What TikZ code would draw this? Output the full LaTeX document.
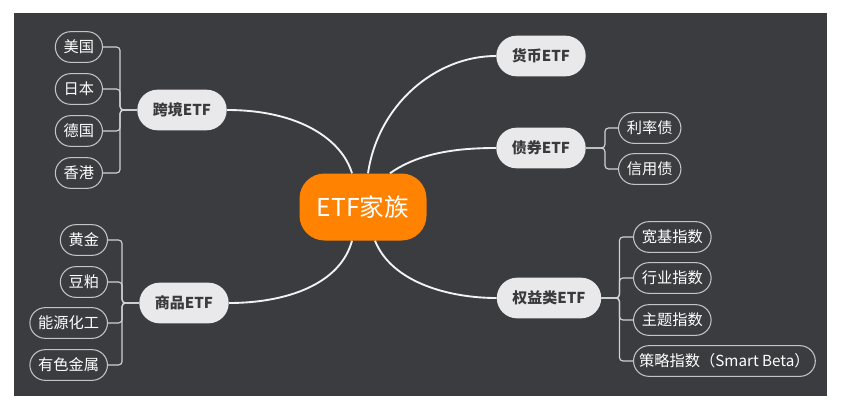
\documentclass[tikz,border=0pt]{standalone}
\usepackage{fontspec}
\setmainfont{Noto Sans CJK SC}
\usetikzlibrary{calc}
\definecolor{Paper}{HTML}{FFFFFF}
\definecolor{Board}{HTML}{3B3C40}
\definecolor{HubOrange}{HTML}{FF8200}
\definecolor{BranchFill}{HTML}{E9E9EB}
\definecolor{BranchText}{HTML}{3A3A3C}
\definecolor{LeafLine}{HTML}{C4C4C6}
\definecolor{Limb}{HTML}{F2F2F2}
\definecolor{Twig}{HTML}{D2D2D4}

\begin{document}
\begin{tikzpicture}[x=0.03cm,y=-0.03cm,every node/.style={font=\fontsize{13}{15}\selectfont},hub/.style={fill=HubOrange,text=white,rounded corners=0.75cm,minimum width=3.81cm,minimum height=2.01cm,font=\fontsize{21}{24}\selectfont},branch/.style={fill=BranchFill,text=BranchText,rounded corners=0.61cm,minimum height=1.22cm,inner xsep=0.47cm,font=\bfseries\fontsize{12.8}{14}\selectfont},leaf/.style={draw=LeafLine,line width=0.9pt,fill=Board,text=white,rounded corners=0.46cm,minimum height=0.92cm,inner xsep=0.25cm},limb/.style={draw=Limb,line width=1.6pt},twig/.style={draw=Twig,line width=1pt,rounded corners=3pt}]
\useasboundingbox (0,0) rectangle (849,419);
\fill[Paper] (0,0) rectangle (849,419); \fill[Board] (14,13) rectangle (827,396);
% hub and branches
\node[hub](hub) at (363,207){ETF家族};
\node[branch](kj) at (182,110){跨境ETF};\node[branch](hb) at (541,56){货币ETF};\node[branch](zq) at (541,148){债券ETF};\node[branch](qy) at (549,298){权益类ETF};\node[branch](sp) at (184,303){商品ETF};
\draw[limb] ($(hub.north)+(-11,0)$) .. controls (342,140) and (300,110) .. (kj.east);
\draw[limb] ($(hub.north)+(5,0)$) .. controls (378,105) and (435,56) .. (hb.west);
\draw[limb] ($(hub.north)+(27,0)$) .. controls (420,152) and (460,148) .. (zq.west);
\draw[limb] ($(hub.south)+(-11,0)$) .. controls (340,285) and (285,303) .. (sp.east);
\draw[limb] ($(hub.south)+(12,0)$) .. controls (392,283) and (450,298) .. (qy.west);
% cross-border leaves
\node[leaf,anchor=east](us) at (103,47){美国};\node[leaf,anchor=east](jp) at (103,89){日本};\node[leaf,anchor=east](de) at (103,131){德国};\node[leaf,anchor=east](hk) at (103,173){香港};
\foreach \n in {us,jp,de,hk}{\draw[twig](kj.west)--++(-17,0)|-(\n.east);}
% commodity leaves
\node[leaf,anchor=east](gold) at (108,240){黄金};\node[leaf,anchor=east](soy) at (108,282){豆粕};\node[leaf,anchor=east](energy) at (108,323){能源化工};\node[leaf,anchor=east](metal) at (108,365){有色金属};
\foreach \n in {gold,soy,energy,metal}{\draw[twig](sp.west)--++(-17,0)|-(\n.east);}
% bond leaves
\node[leaf,anchor=west](rate) at (618,128){利率债};\node[leaf,anchor=west](credit) at (618,169){信用债};
\foreach \n in {rate,credit}{\draw[twig](zq.east)--++(19,0)|-(\n.west);}
% equity leaves
\node[leaf,anchor=west](broad) at (633,237){宽基指数};\node[leaf,anchor=west](sector) at (633,278){行业指数};\node[leaf,anchor=west](theme) at (633,320){主题指数};\node[leaf,anchor=west,inner xsep=0.17cm](smart) at (633,361){策略指数（Smart Beta）};
\foreach \n in {broad,sector,theme,smart}{\draw[twig](qy.east)--++(18,0)|-(\n.west);}
\end{tikzpicture}
\end{document}
